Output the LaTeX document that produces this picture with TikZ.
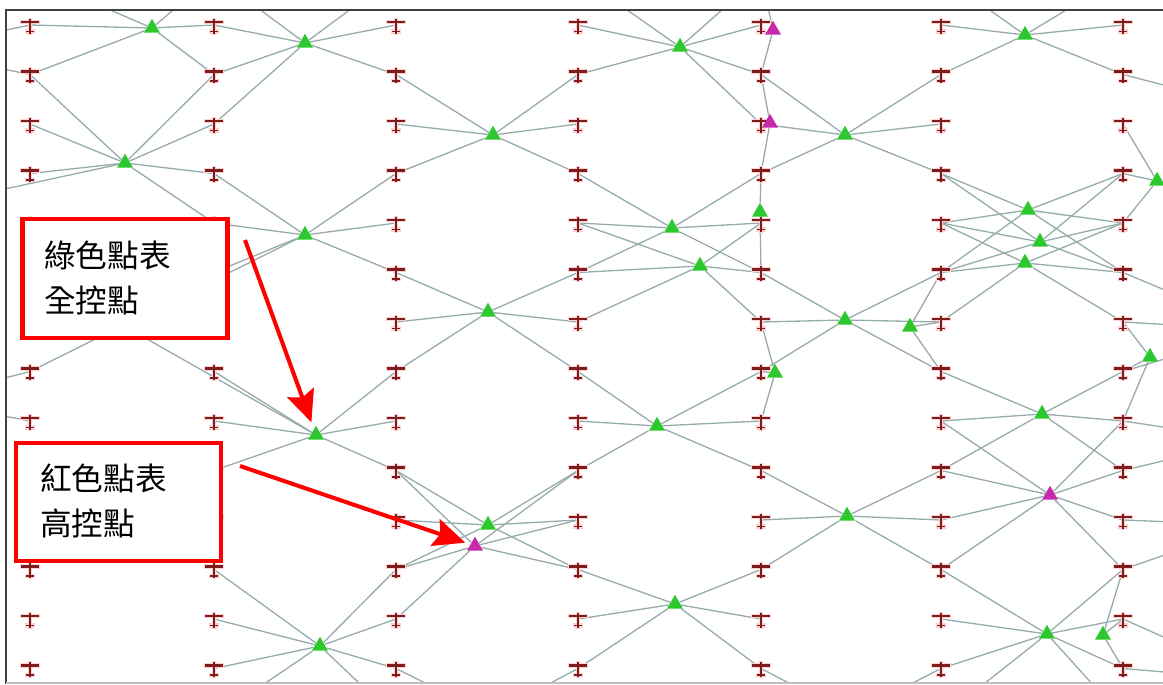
\documentclass[tikz,border=0pt]{standalone}
\usepackage{fontspec}
\newfontfamily\cjk{Noto Sans CJK TC}
\usetikzlibrary{shapes.geometric,arrows.meta,positioning}
\pgfdeclarelayer{background}
\pgfsetlayers{background,main}
\definecolor{linkgray}{RGB}{150,172,172}
\definecolor{camred}{RGB}{125,28,28}
\definecolor{ctrlgreen}{RGB}{45,200,45}
\definecolor{ctrlpink}{RGB}{200,40,170}

\tikzset{
  link/.style={draw=linkgray, line width=0.75pt},
  ctrl/.style={regular polygon, regular polygon sides=3, fill=ctrlgreen, inner sep=0pt, minimum size=10.5pt},
  high/.style={ctrl, fill=ctrlpink},
  cam/.pic={
    \draw[red!18, line width=2.6pt] (-10,-3) -- (10,-3) (0,-7.5) -- (0,9.5) (-5,6.5) -- (5,6.5);
    \draw[camred, line width=1.5pt] (-9,-3) -- (9,-3);
    \draw[camred, line width=1.6pt] (0,-6.5) -- (0,8.5);
    \draw[camred, line width=1.1pt] (-4,6.5) -- (4,6.5);
  },
  legend/.style={draw=red, line width=2.3pt, fill=white, minimum width=4.1cm, minimum height=2.37cm, inner sep=0pt},
  note/.style={font=\cjk\fontsize{18}{25.5}\selectfont, align=left, inner sep=0pt, anchor=west},
  pointer/.style={draw=red, line width=2.3pt, -{Stealth[length=18pt,width=16pt,inset=3pt]}},
}

\begin{document}
\begin{tikzpicture}[x=0.02cm, y=-0.02cm]
  \useasboundingbox (0,0) rectangle (1163,684);

  % grid of stations (off-frame ones only as anchors)
  \foreach \c/\x in {-1/-152,0/30,1/214,2/396,3/578,4/761,5/941,6/1123,7/1305}
    \foreach \r in {-1,...,14}
      \coordinate (t-\c-\r) at (\x,{25+49.5*\r});

  \foreach \c in {0,...,6}
    \foreach \r in {0,...,13}
      \pic at (t-\c-\r) {cam};

  % control points
  \node[ctrl] (g1)  at (152,28)  {};
  \node[ctrl] (g2)  at (305,43)  {};
  \node[ctrl] (g3)  at (125,163) {};
  \node[ctrl] (g4)  at (305,235) {};
  \node[ctrl] (g5)  at (493,135) {};
  \node[ctrl] (g6)  at (680,47)  {};
  \node[ctrl] (g7)  at (845,135) {};
  \node[ctrl] (g8)  at (1025,35) {};
  \node[ctrl] (g9)  at (672,228) {};
  \node[ctrl] (g10) at (700,266) {};
  \node[ctrl] (g11) at (760,212) {};
  \node[ctrl] (g12) at (488,312) {};
  \node[ctrl] (g13) at (845,320) {};
  \node[ctrl] (g14) at (910,327) {};
  \node[ctrl] (g15) at (775,373) {};
  \node[ctrl] (g16) at (1028,210) {};
  \node[ctrl] (g17) at (1040,242) {};
  \node[ctrl] (g18) at (1025,263) {};
  \node[ctrl] (g19) at (1157,181) {};
  \node[ctrl] (g20) at (1150,357) {};
  \node[ctrl] (g21) at (316,435) {};
  \node[ctrl] (g22) at (657,426) {};
  \node[ctrl] (g23) at (1042,414) {};
  \node[ctrl] (g24) at (488,525) {};
  \node[ctrl] (g25) at (847,516) {};
  \node[ctrl] (g26) at (675,604) {};
  \node[ctrl] (g27) at (320,646) {};
  \node[ctrl] (g28) at (1047,634) {};
  \node[ctrl] (g29) at (1103,635) {};
  \node[high] (m1)  at (773,30)  {};
  \node[high] (m2)  at (770,123) {};
  \node[high] (m3)  at (475,546) {};
  \node[high] (m4)  at (1050,495) {};

  % points outside the frame
  \coordinate (gl1) at (-90,50);
  \coordinate (gl2) at (-80,400);
  \coordinate (gr1) at (1260,110);
  \coordinate (gr2) at (1260,330);
  \coordinate (gr3) at (1250,440);
  \coordinate (gr4) at (1250,525);
  \coordinate (gr5) at (1260,680);
  \coordinate (gb1) at (490,715);
  \coordinate (gb2) at (850,715);

  \begin{pgfonlayer}{background}
    \clip (7,11) rectangle (1163,682);
    \foreach \c/\r in {0/0,1/0,0/1,1/1,0/-1,1/-1} \draw[link] (g1) -- (t-\c-\r);
    \foreach \c/\r in {1/-1,1/0,1/1,1/2,2/-1,2/0,2/1} \draw[link] (g2) -- (t-\c-\r);
    \foreach \c/\r in {0/1,1/1,0/2,1/2,0/3,1/3,-1/4,1/4} \draw[link] (g3) -- (t-\c-\r);
    \foreach \c/\r in {1/3,2/3,1/4,2/4,2/5,1/5,0/7} \draw[link] (g4) -- (t-\c-\r);
    \foreach \c/\r in {2/1,2/2,2/3,3/1,3/2,3/3} \draw[link] (g5) -- (t-\c-\r);
    \foreach \c/\r in {3/-1,3/0,3/1,4/-1,4/0,4/1,4/2} \draw[link] (g6) -- (t-\c-\r);
    \foreach \c/\r in {4/1,4/-1} \draw[link] (m1) -- (t-\c-\r);
    \foreach \c/\r in {4/1,4/3} \draw[link] (m2) -- (t-\c-\r);
    \foreach \c/\r in {4/1,4/2,4/3,5/1,5/2,5/3} \draw[link] (g7) -- (t-\c-\r);
    \foreach \c/\r in {5/-1,5/0,5/1,6/-1,6/0,6/1} \draw[link] (g8) -- (t-\c-\r);
    \foreach \c/\r in {3/3,3/4,3/5,4/3,4/4,4/5} \draw[link] (g9) -- (t-\c-\r);
    \foreach \c/\r in {3/4,3/5,3/6,4/4,4/5,4/6} \draw[link] (g10) -- (t-\c-\r);
    \foreach \c/\r in {4/3,4/5} \draw[link] (g11) -- (t-\c-\r);
    \foreach \c/\r in {2/5,2/6,2/7,3/5,3/6,3/7} \draw[link] (g12) -- (t-\c-\r);
    \foreach \c/\r in {4/5,4/6,4/7,5/5,5/6,5/7} \draw[link] (g13) -- (t-\c-\r);
    \foreach \c/\r in {5/5,5/6,5/7} \draw[link] (g14) -- (t-\c-\r);
    \foreach \c/\r in {4/6,4/7,4/8} \draw[link] (g15) -- (t-\c-\r);
    \foreach \c/\r in {5/3,5/4,5/5,6/3,6/4,6/5} \draw[link] (g16) -- (t-\c-\r);
    \foreach \c/\r in {5/3,5/4,5/5,6/3,6/4,6/5} \draw[link] (g17) -- (t-\c-\r);
    \foreach \c/\r in {5/4,5/5,5/6,6/4,6/5,6/6} \draw[link] (g18) -- (t-\c-\r);
    \foreach \c/\r in {6/2,6/3,6/4} \draw[link] (g19) -- (t-\c-\r);
    \foreach \c/\r in {6/6,6/7,6/8} \draw[link] (g20) -- (t-\c-\r);
    \foreach \c/\r in {0/5,1/7,1/8,1/9,2/7,2/8,2/9} \draw[link] (g21) -- (t-\c-\r);
    \foreach \c/\r in {3/7,3/8,3/9,4/7,4/8,4/9} \draw[link] (g22) -- (t-\c-\r);
    \foreach \c/\r in {5/7,5/8,5/9,6/7,6/8,6/9} \draw[link] (g23) -- (t-\c-\r);
    \foreach \c/\r in {2/9,2/10,2/11,3/9,3/10,3/11} \draw[link] (g24) -- (t-\c-\r);
    \foreach \c/\r in {2/9,2/11,2/12,3/9,3/10,3/11} \draw[link] (m3) -- (t-\c-\r);
    \foreach \c/\r in {4/9,4/10,4/11,5/9,5/10,5/11} \draw[link] (g25) -- (t-\c-\r);
    \foreach \c/\r in {5/8,5/9,5/10,5/11,6/8,6/9,6/10,6/11} \draw[link] (m4) -- (t-\c-\r);
    \foreach \c/\r in {3/11,3/12,3/13,4/11,4/12,4/13} \draw[link] (g26) -- (t-\c-\r);
    \foreach \c/\r in {1/11,1/12,1/13,1/14,2/11,2/12,2/13,2/14} \draw[link] (g27) -- (t-\c-\r);
    \foreach \c/\r in {5/11,5/12,5/13,5/14,6/11,6/12,6/13,6/14} \draw[link] (g28) -- (t-\c-\r);
    \foreach \c/\r in {6/11,6/12,6/13} \draw[link] (g29) -- (t-\c-\r);
    % edges running out of the frame
    \foreach \r in {0,1} \draw[link] (gl1) -- (t-0-\r);
    \foreach \r in {7,8} \draw[link] (gl2) -- (t-0-\r);
    \draw[link] (gr1) -- (t-6-1);
    \foreach \r in {5,6,7} \draw[link] (gr2) -- (t-6-\r);
    \foreach \r in {8,9} \draw[link] (gr3) -- (t-6-\r);
    \foreach \r in {10,11} \draw[link] (gr4) -- (t-6-\r);
    \foreach \r in {12,13} \draw[link] (gr5) -- (t-6-\r);
    \draw[link] (gb1) -- (t-2-13);
    \draw[link] (gb1) -- (t-3-13);
    \draw[link] (gb2) -- (t-4-13);
    \draw[link] (gb2) -- (t-5-13);
  \end{pgfonlayer}

  % frame
  \draw[black!75, line width=1.2pt] (1163,10) -- (6,10) -- (6,684);
  \draw[black!25, line width=0.8pt] (6,683) -- (1163,683);

  % legend
  \node[legend] (box1) at (125,278.5) {};
  \node[note] (lab1) at (44,278) {綠色點表\\全控點};
  \node[legend] (box2) at (118.5,502) {};
  \node[note] (lab2) at (40,501) {紅色點表\\高控點};

  \coordinate (a1) at (245,240);
  \coordinate (a2) at (240,466);
  \draw[pointer, shorten >=4pt] (a1) -- (g21);
  \draw[pointer, shorten >=3pt] (a2) -- (m3);
\end{tikzpicture}
\end{document}
